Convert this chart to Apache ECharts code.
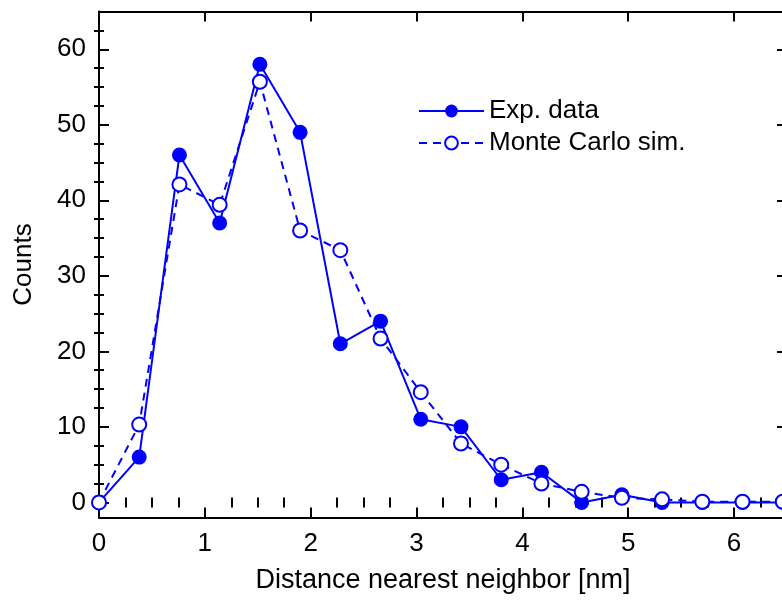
<!DOCTYPE html>
<html>
<head>
<meta charset="utf-8">
<script src="https://cdn.jsdelivr.net/npm/echarts@6/dist/echarts.min.js"></script>
<style>
html,body{margin:0;padding:0;background:#fff;}
#chart{width:782px;height:606px;}
</style>
</head>
<body>
<div id="chart"></div>
<script>
// Data
const distances = [0, 0.38, 0.76, 1.14, 1.52, 1.90, 2.28, 2.66, 3.04, 3.42, 3.80, 4.18, 4.56, 4.94, 5.32, 5.70, 6.08, 6.46];
const expCounts = [0, 6, 46, 37, 58, 49, 21, 24, 11, 10, 3, 4, 0, 1, 0, 0, 0, 0];
const mcCounts  = [0, 10.3, 42.1, 39.4, 55.7, 36.0, 33.4, 21.7, 14.6, 7.8, 5.0, 2.5, 1.4, 0.6, 0.4, 0.1, 0.1, 0.1];
const xMajorTicks = [0, 1, 2, 3, 4, 5, 6];
const xMinorTicks = [0.25, 0.5, 0.75, 1.25, 1.5, 1.75, 2.25, 2.5, 2.75, 3.25, 3.5, 3.75, 4.25, 4.5, 4.75, 5.25, 5.5, 5.75, 6.25];
const yMajorTicks = [0, 10, 20, 30, 40, 50, 60];
const yMinorTicks = [2.5, 5, 7.5, 12.5, 15, 17.5, 22.5, 25, 27.5, 32.5, 35, 37.5, 42.5, 45, 47.5, 52.5, 55, 57.5, 62.5];
const seriesNames = ['Exp. data', 'Monte Carlo sim.'];
const xTitle = 'Distance nearest neighbor [nm]';
const yTitle = 'Counts';

const FONT = '"Liberation Sans", Arial, sans-serif';
const BLUE = '#0000ff';
const X_MIN = 0, X_MAX = 6.5, Y_MIN = -2, Y_MAX = 65;

function xAx(position, ticks, len, opts) {
  return Object.assign({
    type: 'value', position: position, min: X_MIN, max: X_MAX,
    axisLine: {show: false},
    axisTick: {show: true, inside: true, length: len, customValues: ticks, lineStyle: {color: '#000', width: 2}},
    axisLabel: {show: false},
    splitLine: {show: false}
  }, opts || {});
}
function yAx(position, ticks, len, opts) {
  return Object.assign({
    type: 'value', position: position, min: Y_MIN, max: Y_MAX,
    axisLine: {show: false},
    axisTick: {show: true, inside: true, length: len, customValues: ticks, lineStyle: {color: '#000', width: 2}},
    axisLabel: {show: false},
    splitLine: {show: false}
  }, opts || {});
}

const chart = echarts.init(document.getElementById('chart'), null, {renderer: 'canvas'});
chart.setOption({
  animation: false,
  backgroundColor: '#fff',
  textStyle: {fontFamily: FONT},
  grid: {left: 99, top: 11.5, width: 688, height: 506, containLabel: false, outerBoundsMode: 'none'},
  legend: {
    orient: 'vertical', left: 413, top: 93,
    itemWidth: 65, itemHeight: 16, itemGap: 6,
    textStyle: {fontFamily: FONT, fontSize: 26, color: '#000'},
    data: seriesNames
  },
  xAxis: [
    xAx('bottom', xMajorTicks, 10, {
      axisLine: {show: true, onZero: false, lineStyle: {color: '#000', width: 2}},
      axisLabel: {show: true, customValues: xMajorTicks, margin: 13, fontSize: 26, color: '#000', fontFamily: FONT},
      name: xTitle, nameLocation: 'middle', nameGap: 50,
      nameTextStyle: {fontSize: 27, color: '#000', fontFamily: FONT}
    }),
    xAx('bottom', xMinorTicks, 5),
    xAx('top', xMajorTicks, 10, {axisLine: {show: true, onZero: false, lineStyle: {color: '#000', width: 2}}}),
    xAx('top', xMinorTicks, 5)
  ],
  yAxis: [
    yAx('left', yMajorTicks, 10, {
      axisLine: {show: true, onZero: false, lineStyle: {color: '#000', width: 2}},
      axisLabel: {show: true, customValues: yMajorTicks, margin: 13, fontSize: 26, color: '#000', fontFamily: FONT},
      name: yTitle, nameLocation: 'middle', nameGap: 62, nameRotate: 90,
      nameTextStyle: {fontSize: 26, color: '#000', fontFamily: FONT}
    }),
    yAx('left', yMinorTicks, 5),
    yAx('right', yMajorTicks, 10, {axisLine: {show: true, onZero: false, lineStyle: {color: '#000', width: 2}}}),
    yAx('right', yMinorTicks, 5)
  ],
  series: [
    {
      name: seriesNames[0], type: 'line', xAxisIndex: 0, yAxisIndex: 0,
      data: distances.map((d, i) => [d, expCounts[i]]),
      symbol: 'circle', symbolSize: 15,
      itemStyle: {color: BLUE},
      lineStyle: {color: BLUE, width: 2},
      z: 2
    },
    {
      name: seriesNames[1], type: 'line', xAxisIndex: 0, yAxisIndex: 0,
      data: distances.map((d, i) => [d, mcCounts[i]]),
      symbol: 'emptyCircle', symbolSize: 14,
      itemStyle: {color: BLUE, borderColor: BLUE, borderWidth: 1.5},
      lineStyle: {color: BLUE, width: 2, type: [8, 6]},
      z: 3
    }
  ]
});
</script>
</body>
</html>
